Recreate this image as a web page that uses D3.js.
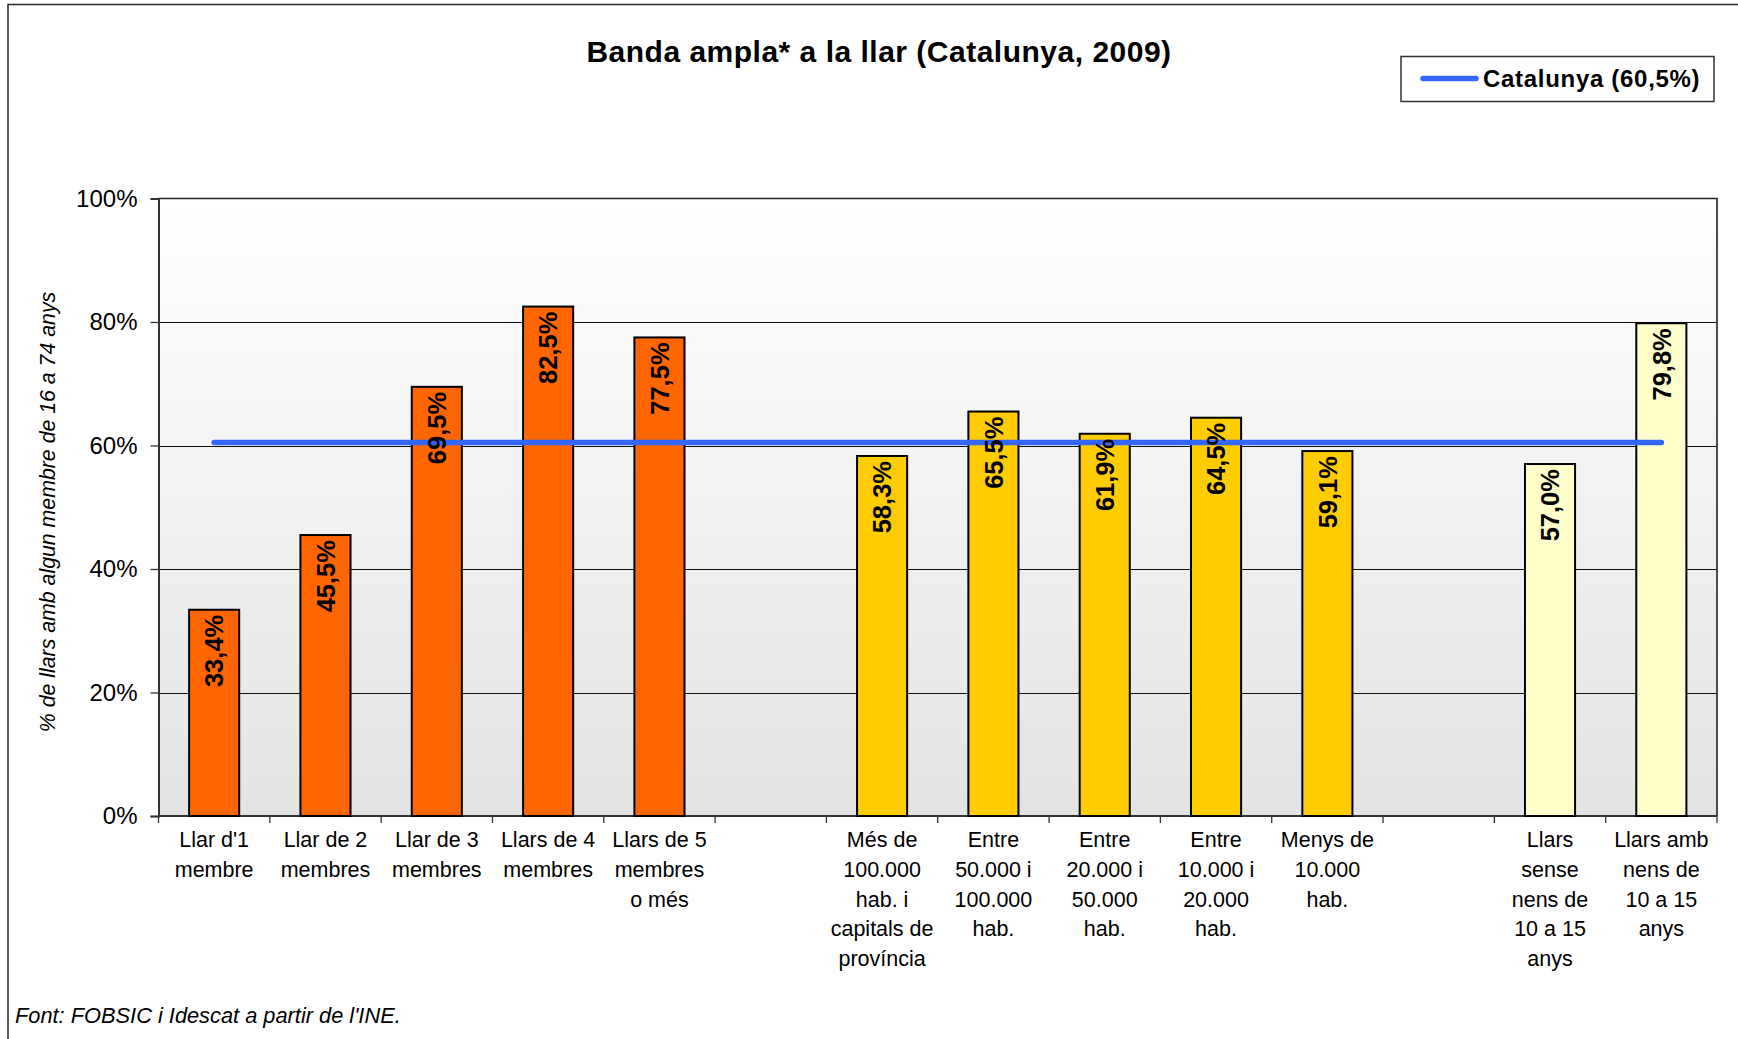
<!DOCTYPE html>
<html>
<head>
<meta charset="utf-8">
<script src="https://cdn.jsdelivr.net/npm/d3@7"></script>
<style>
  html, body { margin: 0; padding: 0; background: #fff; }
  svg { display: block; font-family: "Liberation Sans", Arial, sans-serif; }
</style>
</head>
<body>
<svg id="chart" width="1738" height="1039"></svg>
<script>
// ---- data ----
const categories = [
  "Llar d'1\nmembre",
  "Llar de 2\nmembres",
  "Llar de 3\nmembres",
  "Llars de 4\nmembres",
  "Llars de 5\nmembres\no més",
  "",
  "Més de\n100.000\nhab. i\ncapitals de\nprovíncia",
  "Entre\n50.000 i\n100.000\nhab.",
  "Entre\n20.000 i\n50.000\nhab.",
  "Entre\n10.000 i\n20.000\nhab.",
  "Menys de\n10.000\nhab.",
  "",
  "Llars\nsense\nnens de\n10 a 15\nanys",
  "Llars amb\nnens de\n10 a 15\nanys"
];
const values = [33.4, 45.5, 69.5, 82.5, 77.5, null, 58.3, 65.5, 61.9, 64.5, 59.1, null, 57.0, 79.8];
const groups = ["size", "size", "size", "size", "size", null, "town", "town", "town", "town", "town", null, "kids", "kids"];
const groupColors = { size: "#FF6600", town: "#FFCC00", kids: "#FFFFCC" };
const catalunyaValue = 60.5;
const catalunyaLabel = "Catalunya (60,5%)";
const yTicks = [0, 20, 40, 60, 80, 100];
const titleText = "Banda ampla* a la llar (Catalunya, 2009)";
const yAxisTitle = "% de llars amb algun membre de 16 a 74 anys";
const sourceText = "Font: FOBSIC i Idescat a partir de l'INE.";

// ---- layout ----
const svg = d3.select("#chart");
const plot = { left: 158.5, right: 1717, top: 198.5, bottom: 816 };
const keys = categories.map((c, i) => "k" + i);

const xSlot = d3.scaleBand().domain(keys).range([plot.left, plot.right]).padding(0);
const barW = xSlot.step() * 0.45;
const y = d3.scaleLinear().domain([0, 100]).range([plot.bottom, plot.top]);
const fmt = v => d3.format(".1f")(v).replace(".", ",") + "%";

// outer chart border
svg.append("rect")
  .attr("x", 8).attr("y", 4.5).attr("width", 1760).attr("height", 1100)
  .attr("fill", "none").attr("stroke", "#333").attr("stroke-width", 1.6);

// plot background gradient
const defs = svg.append("defs");
const grad = defs.append("linearGradient").attr("id", "bg")
  .attr("x1", 0).attr("y1", 0).attr("x2", 0).attr("y2", 1);
grad.append("stop").attr("offset", "0%").attr("stop-color", "#ffffff");
grad.append("stop").attr("offset", "100%").attr("stop-color", "#e3e3e3");

svg.append("rect")
  .attr("x", plot.left).attr("y", plot.top)
  .attr("width", plot.right - plot.left).attr("height", plot.bottom - plot.top)
  .attr("fill", "url(#bg)");

// gridlines
svg.append("g").selectAll("line")
  .data(yTicks.filter(t => t > 0 && t < 100))
  .join("line")
  .attr("x1", plot.left).attr("x2", plot.right)
  .attr("y1", d => Math.round(y(d)) + 0.5).attr("y2", d => Math.round(y(d)) + 0.5)
  .attr("stroke", "#111").attr("stroke-width", 1);

// plot frame (top + right)
svg.append("path")
  .attr("d", `M${plot.left},${plot.top} H${plot.right} V${plot.bottom}`)
  .attr("fill", "none").attr("stroke", "#222").attr("stroke-width", 1.6);

// y axis
const yAxis = d3.axisLeft(y).tickValues(yTicks).tickFormat(d => d + "%").tickSize(8).tickPadding(13);
const gy = svg.append("g").attr("transform", `translate(${plot.left},0)`).call(yAxis);
gy.select(".domain").attr("stroke", "#333").attr("stroke-width", 2);
gy.selectAll(".tick line").attr("stroke", "#333").attr("stroke-width", 1.3);
gy.selectAll(".tick text").attr("font-size", 24).attr("fill", "#000")
  .attr("font-family", "'Liberation Sans', Arial, sans-serif");

// x axis line + boundary ticks
svg.append("line")
  .attr("x1", plot.left).attr("x2", plot.right)
  .attr("y1", plot.bottom).attr("y2", plot.bottom)
  .attr("stroke", "#333").attr("stroke-width", 2.2);
const boundaries = keys.map(k => xSlot(k)).concat([plot.right]);
svg.append("g").selectAll("line").data(boundaries).join("line")
  .attr("x1", d => d).attr("x2", d => d)
  .attr("y1", plot.bottom).attr("y2", plot.bottom + 7)
  .attr("stroke", "#333").attr("stroke-width", 1.3);

// bars
const data = keys.map((k, i) => ({ key: k, value: values[i], group: groups[i], label: categories[i] }));
const bars = data.filter(d => d.value != null);
svg.append("g").selectAll("rect").data(bars).join("rect")
  .attr("x", d => xSlot(d.key) + xSlot.bandwidth() / 2 - barW / 2)
  .attr("y", d => y(d.value))
  .attr("width", barW)
  .attr("height", d => plot.bottom - y(d.value))
  .attr("fill", d => groupColors[d.group])
  .attr("stroke", "#000").attr("stroke-width", 2);

// Catalunya line
const firstC = xSlot(keys[0]) + xSlot.bandwidth() / 2;
const lastC = xSlot(keys[keys.length - 1]) + xSlot.bandwidth() / 2;
svg.append("line")
  .attr("x1", firstC).attr("x2", lastC)
  .attr("y1", y(catalunyaValue)).attr("y2", y(catalunyaValue))
  .attr("stroke", "#3366FF").attr("stroke-width", 5.5).attr("stroke-linecap", "round");

// data labels (rotated, inside end)
svg.append("g").selectAll("text").data(bars).join("text")
  .attr("transform", d => `translate(${xSlot(d.key) + xSlot.bandwidth() / 2},${y(d.value) + 5}) rotate(-90)`)
  .attr("text-anchor", "end")
  .attr("dy", "0.36em")
  .attr("font-size", 25.5).attr("font-weight", "bold").attr("fill", "#000")
  .text(d => fmt(d.value));

// x category labels
const xl = svg.append("g").selectAll("text").data(data).join("text")
  .attr("text-anchor", "middle")
  .attr("font-size", 21.5).attr("fill", "#000");
xl.each(function(d) {
  const cx = xSlot(d.key) + xSlot.bandwidth() / 2;
  d3.select(this).selectAll("tspan").data(d.label ? d.label.split("\n") : []).join("tspan")
    .attr("x", cx)
    .attr("y", (l, i) => plot.bottom + 31 + i * 29.8)
    .text(l => l);
});

// title
svg.append("text")
  .attr("x", 879).attr("y", 62)
  .attr("text-anchor", "middle")
  .attr("font-size", 30).attr("font-weight", "bold").attr("letter-spacing", 0.5)
  .text(titleText);

// y axis title
svg.append("text")
  .attr("transform", `translate(55,512) rotate(-90)`)
  .attr("text-anchor", "middle")
  .attr("font-size", 21.3).attr("font-style", "italic")
  .text(yAxisTitle);

// legend
const lg = svg.append("g");
lg.append("rect").attr("x", 1401).attr("y", 56.5).attr("width", 313).attr("height", 45)
  .attr("fill", "#fff").attr("stroke", "#333").attr("stroke-width", 1.5);
lg.append("line").attr("x1", 1423).attr("x2", 1476).attr("y1", 78.5).attr("y2", 78.5)
  .attr("stroke", "#3366FF").attr("stroke-width", 5.5).attr("stroke-linecap", "round");
lg.append("text").attr("x", 1483).attr("y", 87)
  .attr("font-size", 24).attr("font-weight", "bold").attr("letter-spacing", 0.7)
  .text(catalunyaLabel);

// source
svg.append("text")
  .attr("x", 15).attr("y", 1023)
  .attr("font-size", 21.8).attr("font-style", "italic")
  .text(sourceText);
</script>
</body>
</html>
